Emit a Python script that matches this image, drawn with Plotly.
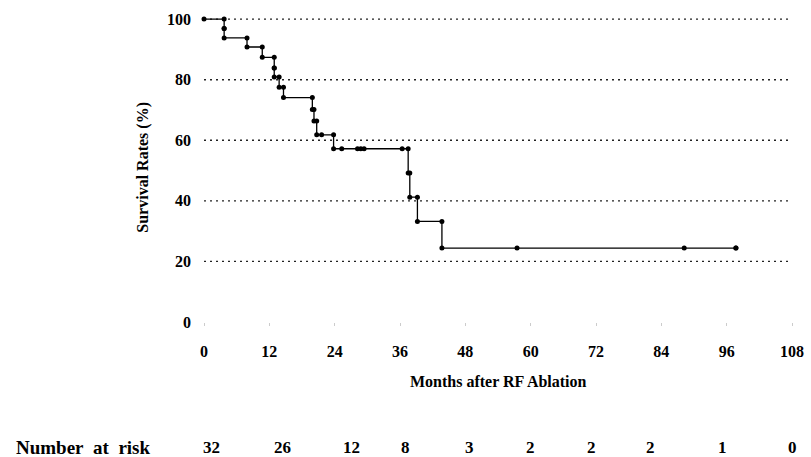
import plotly.graph_objects as go

# ---------------- data ----------------
event_times = [3.7, 3.7, 7.9, 10.7, 12.9, 12.9, 13.8, 14.6, 19.9, 20.2, 20.7,
               23.8, 37.5, 37.8, 39.2, 43.7]
event_surv = [96.9, 93.8, 90.8, 87.4, 83.9, 80.9, 77.5, 74.1, 70.2, 66.4, 61.8,
              57.2, 49.2, 41.2, 33.2, 24.4]
censor_times = [21.6, 25.3, 28.2, 28.8, 29.4, 36.4, 57.5, 88.2, 97.7]

x_ticks = [0, 12, 24, 36, 48, 60, 72, 84, 96, 108]
y_ticks = [0, 20, 40, 60, 80, 100]
grid_levels = [20, 40, 60, 80, 100]

risk_label = "Number&nbsp; at&nbsp; risk"
risk_counts = [32, 26, 12, 8, 3, 2, 2, 2, 1, 0]
risk_pos_months = [-0.6, 12.4, 25.2, 37.0, 48.7, 59.9, 72.3, 83.2, 96.5, 109.2]

# ---------------- build KM step ----------------
def surv_at(t):
    s = 100.0
    for et, es in zip(event_times, event_surv):
        if et <= t:
            s = es
    return s

xs, ys = [0.0], [100.0]
prev = 100.0
for t, s in zip(event_times, event_surv):
    xs += [t, t]
    ys += [prev, s]
    prev = s
last_t = max(censor_times)
xs.append(last_t)
ys.append(surv_at(last_t))

cx = censor_times
cy = [surv_at(t) for t in censor_times]

FONT = "Liberation Serif"
XMAX = 108.0

fig = go.Figure()
fig.add_trace(go.Scatter(x=xs, y=ys, mode="lines+markers",
                         line=dict(color="black", width=1.3),
                         marker=dict(color="black", size=5),
                         cliponaxis=False, showlegend=False))
fig.add_trace(go.Scatter(x=cx, y=cy, mode="markers",
                         marker=dict(color="black", size=5),
                         cliponaxis=False, showlegend=False))

for g in grid_levels:
    fig.add_shape(type="line", xref="x", yref="y", x0=0, x1=XMAX, y0=g, y1=g,
                  line=dict(color="#222", width=1.4, dash="2px,4px"), layer="below")

annotations = [
    dict(text="<b>Survival Rates (%)</b>", xref="paper", yref="paper",
         x=-0.123, y=0.492, textangle=-90, showarrow=False,
         font=dict(family=FONT, size=16, color="black")),
    dict(text="<b>Months after RF Ablation</b>", xref="paper", yref="paper",
         x=0.5, y=-0.188, showarrow=False, yanchor="middle",
         font=dict(family=FONT, size=16, color="black")),
    dict(text="<b>" + risk_label + "</b>", xref="paper", yref="paper",
         x=-0.323, y=-0.397, showarrow=False, xanchor="left", yanchor="middle",
         font=dict(family=FONT, size=19, color="black")),
]
for n, m in zip(risk_counts, risk_pos_months):
    annotations.append(dict(text="<b>%d</b>" % n, xref="paper", yref="paper",
                            x=m / XMAX, y=-0.397, showarrow=False,
                            yanchor="middle",
                            font=dict(family=FONT, size=17, color="black")))

fig.update_layout(
    width=811, height=457,
    margin=dict(l=204, r=15, t=7, b=135),
    paper_bgcolor="white", plot_bgcolor="white",
    font=dict(family=FONT, size=16, color="black"),
    xaxis=dict(range=[0, XMAX], tickvals=x_ticks,
               ticktext=["<b>%d</b>" % v for v in x_ticks],
               showgrid=False, zeroline=False, showline=False,
               ticks="outside", ticklen=3, tickcolor="#ccc",
               ticklabelstandoff=12),
    yaxis=dict(range=[0, 104], tickvals=y_ticks,
               ticktext=["<b>%d</b>" % v for v in y_ticks],
               showgrid=False, zeroline=False, showline=False,
               ticks="", ticklabelstandoff=12),
    annotations=annotations,
)

fig.write_html("out.html",
               config={"displayModeBar": False},
               post_script="document.body.style.margin='0';"
                           "document.body.style.overflow='hidden';")
